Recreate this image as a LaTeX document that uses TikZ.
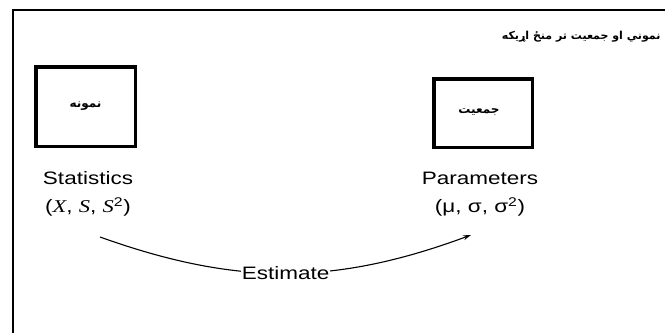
\documentclass[tikz,border=0pt]{standalone}
\usepackage{fontspec}
\setmainfont{Liberation Sans}
\newfontfamily\serifit{Liberation Serif}
\newfontfamily\pashto[Script=Arabic]{DejaVu Sans}
\TeXXeTstate=1
\usetikzlibrary{arrows.meta}
\newcommand{\wide}[1]{\scalebox{1.25}[1]{#1}}
\newcommand{\rtl}[1]{{\pashto\bfseries\beginR #1\endR}}

\tikzset{
  framebox/.style={draw, line width=3.5pt, inner sep=0pt, font=\fontsize{12}{14}\selectfont},
  labeltext/.style={align=center, font=\fontsize{18}{28}\selectfont},
}

\begin{document}
\begin{tikzpicture}[x=1pt, y=-1pt]
\useasboundingbox (0,0) rectangle (665,333);
\draw[line width=2pt] (13,333) |- (665,10);
\node[anchor=east, font=\fontsize{11}{13}\selectfont] (title) at (664,37) {\rtl{نموني او جمعيت تر منځ اړيکه}};
% boxes
\node[framebox, minimum width=99.5pt, minimum height=79.5pt] (sample) at (85.5,106.5) {\raisebox{3pt}{\rtl{نمونه}}};
\node[framebox, minimum width=98.5pt, minimum height=68.5pt] (population) at (483,113) {\raisebox{4pt}{\rtl{جمعيت}}\hspace*{8pt}};
% labels
\node[labeltext] (stats) at (88,194) {\wide{Statistics}\\\wide{({\serifit\itshape X},\ {\serifit\itshape S}, {\serifit\itshape S}\textsuperscript{2})}};
\node[labeltext] (params) at (480,194) {\wide{Parameters}\\\wide{(μ, σ, σ\textsuperscript{2})}};
% estimate arrow
\coordinate (from) at (100,237);
\coordinate (to) at (471,235);
\draw[-{Stealth[length=8pt, width=5pt]}, line width=1.1pt] (from) to[bend right=20] node[fill=white, inner sep=1pt, font=\fontsize{18}{20}\selectfont] (est) {\wide{Estimate}} (to);
\end{tikzpicture}
\end{document}
